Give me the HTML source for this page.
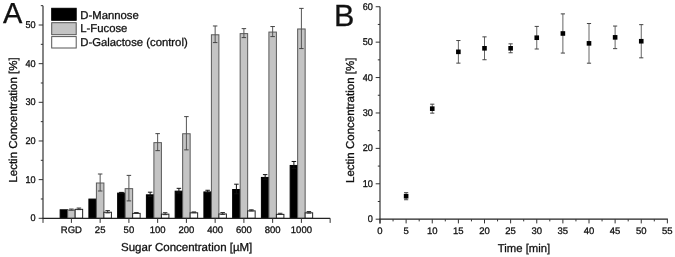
<!DOCTYPE html>
<html><head><meta charset="utf-8"><style>
html,body{margin:0;padding:0;background:#fff;width:675px;height:257px;overflow:hidden}
svg{display:block;filter:blur(0.5px)}
text{font-family:"Liberation Sans", sans-serif;fill:#111;stroke:#111;stroke-width:0.3px;text-rendering:geometricPrecision}
</style></head><body>
<svg width="675" height="257" viewBox="0 0 675 257">
<rect x="60.15" y="209.79" width="7.50" height="8.51" fill="#000" stroke="#000" stroke-width="1"/>
<rect x="67.65" y="210.10" width="7.50" height="8.20" fill="#c4c4c4" stroke="#5a5a5a" stroke-width="1"/>
<rect x="75.15" y="209.33" width="7.50" height="8.97" fill="#fff" stroke="#222" stroke-width="1"/>
<line x1="71.40" y1="209.02" x2="71.40" y2="210.18" stroke="#555" stroke-width="1"/>
<line x1="69.15" y1="209.02" x2="73.65" y2="209.02" stroke="#444" stroke-width="1"/>
<line x1="69.15" y1="210.18" x2="73.65" y2="210.18" stroke="#444" stroke-width="1"/>
<line x1="78.90" y1="208.06" x2="78.90" y2="209.60" stroke="#333" stroke-width="1"/>
<line x1="76.65" y1="208.06" x2="81.15" y2="208.06" stroke="#333" stroke-width="1"/>
<line x1="76.65" y1="209.60" x2="81.15" y2="209.60" stroke="#333" stroke-width="1"/>
<rect x="88.90" y="199.08" width="7.50" height="19.22" fill="#000" stroke="#000" stroke-width="1"/>
<rect x="96.40" y="183.00" width="7.50" height="35.30" fill="#c4c4c4" stroke="#5a5a5a" stroke-width="1"/>
<rect x="103.90" y="212.23" width="7.50" height="6.07" fill="#fff" stroke="#222" stroke-width="1"/>
<line x1="100.15" y1="174.00" x2="100.15" y2="191.01" stroke="#555" stroke-width="1"/>
<line x1="97.90" y1="174.00" x2="102.40" y2="174.00" stroke="#444" stroke-width="1"/>
<line x1="97.90" y1="191.01" x2="102.40" y2="191.01" stroke="#444" stroke-width="1"/>
<line x1="107.65" y1="210.57" x2="107.65" y2="212.89" stroke="#333" stroke-width="1"/>
<line x1="105.40" y1="210.57" x2="109.90" y2="210.57" stroke="#333" stroke-width="1"/>
<line x1="105.40" y1="212.89" x2="109.90" y2="212.89" stroke="#333" stroke-width="1"/>
<rect x="117.65" y="193.09" width="7.50" height="25.21" fill="#000" stroke="#000" stroke-width="1"/>
<rect x="125.15" y="188.65" width="7.50" height="29.65" fill="#c4c4c4" stroke="#5a5a5a" stroke-width="1"/>
<rect x="132.65" y="213.39" width="7.50" height="4.91" fill="#fff" stroke="#222" stroke-width="1"/>
<line x1="121.40" y1="192.40" x2="121.40" y2="192.78" stroke="#111" stroke-width="1"/>
<line x1="119.15" y1="192.40" x2="123.65" y2="192.40" stroke="#111" stroke-width="1"/>
<line x1="119.15" y1="192.78" x2="123.65" y2="192.78" stroke="#111" stroke-width="1"/>
<line x1="128.90" y1="175.39" x2="128.90" y2="200.90" stroke="#555" stroke-width="1"/>
<line x1="126.65" y1="175.39" x2="131.15" y2="175.39" stroke="#444" stroke-width="1"/>
<line x1="126.65" y1="200.90" x2="131.15" y2="200.90" stroke="#444" stroke-width="1"/>
<line x1="136.40" y1="212.50" x2="136.40" y2="213.27" stroke="#333" stroke-width="1"/>
<line x1="134.15" y1="212.50" x2="138.65" y2="212.50" stroke="#333" stroke-width="1"/>
<line x1="134.15" y1="213.27" x2="138.65" y2="213.27" stroke="#333" stroke-width="1"/>
<rect x="146.40" y="194.83" width="7.50" height="23.47" fill="#000" stroke="#000" stroke-width="1"/>
<rect x="153.90" y="142.64" width="7.50" height="75.66" fill="#c4c4c4" stroke="#5a5a5a" stroke-width="1"/>
<rect x="161.40" y="214.16" width="7.50" height="4.14" fill="#fff" stroke="#222" stroke-width="1"/>
<line x1="150.15" y1="192.20" x2="150.15" y2="196.46" stroke="#111" stroke-width="1"/>
<line x1="147.90" y1="192.20" x2="152.40" y2="192.20" stroke="#111" stroke-width="1"/>
<line x1="147.90" y1="196.46" x2="152.40" y2="196.46" stroke="#111" stroke-width="1"/>
<line x1="157.65" y1="133.63" x2="157.65" y2="150.65" stroke="#555" stroke-width="1"/>
<line x1="155.40" y1="133.63" x2="159.90" y2="133.63" stroke="#444" stroke-width="1"/>
<line x1="155.40" y1="150.65" x2="159.90" y2="150.65" stroke="#444" stroke-width="1"/>
<line x1="165.15" y1="212.69" x2="165.15" y2="214.63" stroke="#333" stroke-width="1"/>
<line x1="162.90" y1="212.69" x2="167.40" y2="212.69" stroke="#333" stroke-width="1"/>
<line x1="162.90" y1="214.63" x2="167.40" y2="214.63" stroke="#333" stroke-width="1"/>
<rect x="175.15" y="191.16" width="7.50" height="27.14" fill="#000" stroke="#000" stroke-width="1"/>
<rect x="182.65" y="133.75" width="7.50" height="84.55" fill="#c4c4c4" stroke="#5a5a5a" stroke-width="1"/>
<rect x="190.15" y="212.81" width="7.50" height="5.49" fill="#fff" stroke="#222" stroke-width="1"/>
<line x1="178.90" y1="188.34" x2="178.90" y2="192.98" stroke="#111" stroke-width="1"/>
<line x1="176.65" y1="188.34" x2="181.15" y2="188.34" stroke="#111" stroke-width="1"/>
<line x1="176.65" y1="192.98" x2="181.15" y2="192.98" stroke="#111" stroke-width="1"/>
<line x1="186.40" y1="116.62" x2="186.40" y2="149.87" stroke="#555" stroke-width="1"/>
<line x1="184.15" y1="116.62" x2="188.65" y2="116.62" stroke="#444" stroke-width="1"/>
<line x1="184.15" y1="149.87" x2="188.65" y2="149.87" stroke="#444" stroke-width="1"/>
<line x1="193.90" y1="211.92" x2="193.90" y2="212.69" stroke="#333" stroke-width="1"/>
<line x1="191.65" y1="211.92" x2="196.15" y2="211.92" stroke="#333" stroke-width="1"/>
<line x1="191.65" y1="212.69" x2="196.15" y2="212.69" stroke="#333" stroke-width="1"/>
<rect x="203.90" y="191.93" width="7.50" height="26.37" fill="#000" stroke="#000" stroke-width="1"/>
<rect x="211.40" y="34.78" width="7.50" height="183.52" fill="#c4c4c4" stroke="#5a5a5a" stroke-width="1"/>
<rect x="218.90" y="213.97" width="7.50" height="4.33" fill="#fff" stroke="#222" stroke-width="1"/>
<line x1="207.65" y1="190.27" x2="207.65" y2="192.59" stroke="#111" stroke-width="1"/>
<line x1="205.40" y1="190.27" x2="209.90" y2="190.27" stroke="#111" stroke-width="1"/>
<line x1="205.40" y1="192.59" x2="209.90" y2="192.59" stroke="#111" stroke-width="1"/>
<line x1="215.15" y1="25.97" x2="215.15" y2="42.59" stroke="#555" stroke-width="1"/>
<line x1="212.90" y1="25.97" x2="217.40" y2="25.97" stroke="#444" stroke-width="1"/>
<line x1="212.90" y1="42.59" x2="217.40" y2="42.59" stroke="#444" stroke-width="1"/>
<line x1="222.65" y1="212.50" x2="222.65" y2="214.43" stroke="#333" stroke-width="1"/>
<line x1="220.40" y1="212.50" x2="224.90" y2="212.50" stroke="#333" stroke-width="1"/>
<line x1="220.40" y1="214.43" x2="224.90" y2="214.43" stroke="#333" stroke-width="1"/>
<rect x="232.65" y="189.50" width="7.50" height="28.80" fill="#000" stroke="#000" stroke-width="1"/>
<rect x="240.15" y="33.62" width="7.50" height="184.68" fill="#c4c4c4" stroke="#5a5a5a" stroke-width="1"/>
<rect x="247.65" y="210.87" width="7.50" height="7.43" fill="#fff" stroke="#222" stroke-width="1"/>
<line x1="236.40" y1="184.20" x2="236.40" y2="193.79" stroke="#111" stroke-width="1"/>
<line x1="234.15" y1="184.20" x2="238.65" y2="184.20" stroke="#111" stroke-width="1"/>
<line x1="234.15" y1="193.79" x2="238.65" y2="193.79" stroke="#111" stroke-width="1"/>
<line x1="243.90" y1="28.63" x2="243.90" y2="37.60" stroke="#555" stroke-width="1"/>
<line x1="241.65" y1="28.63" x2="246.15" y2="28.63" stroke="#444" stroke-width="1"/>
<line x1="241.65" y1="37.60" x2="246.15" y2="37.60" stroke="#444" stroke-width="1"/>
<line x1="251.40" y1="209.79" x2="251.40" y2="210.95" stroke="#333" stroke-width="1"/>
<line x1="249.15" y1="209.79" x2="253.65" y2="209.79" stroke="#333" stroke-width="1"/>
<line x1="249.15" y1="210.95" x2="253.65" y2="210.95" stroke="#333" stroke-width="1"/>
<rect x="261.40" y="177.43" width="7.50" height="40.87" fill="#000" stroke="#000" stroke-width="1"/>
<rect x="268.90" y="32.07" width="7.50" height="186.23" fill="#c4c4c4" stroke="#5a5a5a" stroke-width="1"/>
<rect x="276.40" y="214.35" width="7.50" height="3.95" fill="#fff" stroke="#222" stroke-width="1"/>
<line x1="265.15" y1="174.61" x2="265.15" y2="179.25" stroke="#111" stroke-width="1"/>
<line x1="262.90" y1="174.61" x2="267.40" y2="174.61" stroke="#111" stroke-width="1"/>
<line x1="262.90" y1="179.25" x2="267.40" y2="179.25" stroke="#111" stroke-width="1"/>
<line x1="272.65" y1="26.55" x2="272.65" y2="36.60" stroke="#555" stroke-width="1"/>
<line x1="270.40" y1="26.55" x2="274.90" y2="26.55" stroke="#444" stroke-width="1"/>
<line x1="270.40" y1="36.60" x2="274.90" y2="36.60" stroke="#444" stroke-width="1"/>
<line x1="280.15" y1="213.27" x2="280.15" y2="214.43" stroke="#333" stroke-width="1"/>
<line x1="277.90" y1="213.27" x2="282.40" y2="213.27" stroke="#333" stroke-width="1"/>
<line x1="277.90" y1="214.43" x2="282.40" y2="214.43" stroke="#333" stroke-width="1"/>
<rect x="290.15" y="165.45" width="7.50" height="52.85" fill="#000" stroke="#000" stroke-width="1"/>
<rect x="297.65" y="28.98" width="7.50" height="189.32" fill="#c4c4c4" stroke="#5a5a5a" stroke-width="1"/>
<rect x="305.15" y="212.81" width="7.50" height="5.49" fill="#fff" stroke="#222" stroke-width="1"/>
<line x1="293.90" y1="161.47" x2="293.90" y2="168.43" stroke="#111" stroke-width="1"/>
<line x1="291.65" y1="161.47" x2="296.15" y2="161.47" stroke="#111" stroke-width="1"/>
<line x1="291.65" y1="168.43" x2="296.15" y2="168.43" stroke="#111" stroke-width="1"/>
<line x1="301.40" y1="8.38" x2="301.40" y2="48.58" stroke="#555" stroke-width="1"/>
<line x1="299.15" y1="8.38" x2="303.65" y2="8.38" stroke="#444" stroke-width="1"/>
<line x1="299.15" y1="48.58" x2="303.65" y2="48.58" stroke="#444" stroke-width="1"/>
<line x1="308.90" y1="211.53" x2="308.90" y2="213.08" stroke="#333" stroke-width="1"/>
<line x1="306.65" y1="211.53" x2="311.15" y2="211.53" stroke="#333" stroke-width="1"/>
<line x1="306.65" y1="213.08" x2="311.15" y2="213.08" stroke="#333" stroke-width="1"/>
<line x1="43.00" y1="5.67" x2="43.00" y2="218.80" stroke="#333" stroke-width="1.2"/>
<line x1="42.40" y1="218.30" x2="330.15" y2="218.30" stroke="#222" stroke-width="1.2"/>
<line x1="38.70" y1="218.30" x2="43.00" y2="218.30" stroke="#333" stroke-width="1"/>
<text transform="translate(35.60 221.30) scale(0.95 1.02)" font-size="9.6" text-anchor="end" >0</text>
<line x1="38.70" y1="179.64" x2="43.00" y2="179.64" stroke="#333" stroke-width="1"/>
<text transform="translate(35.60 182.64) scale(0.95 1.02)" font-size="9.6" text-anchor="end" >10</text>
<line x1="38.70" y1="140.98" x2="43.00" y2="140.98" stroke="#333" stroke-width="1"/>
<text transform="translate(35.60 143.98) scale(0.95 1.02)" font-size="9.6" text-anchor="end" >20</text>
<line x1="38.70" y1="102.32" x2="43.00" y2="102.32" stroke="#333" stroke-width="1"/>
<text transform="translate(35.60 105.32) scale(0.95 1.02)" font-size="9.6" text-anchor="end" >30</text>
<line x1="38.70" y1="63.66" x2="43.00" y2="63.66" stroke="#333" stroke-width="1"/>
<text transform="translate(35.60 66.66) scale(0.95 1.02)" font-size="9.6" text-anchor="end" >40</text>
<line x1="38.70" y1="25.00" x2="43.00" y2="25.00" stroke="#333" stroke-width="1"/>
<text transform="translate(35.60 28.00) scale(0.95 1.02)" font-size="9.6" text-anchor="end" >50</text>
<line x1="40.80" y1="198.97" x2="43.00" y2="198.97" stroke="#333" stroke-width="1"/>
<line x1="40.80" y1="160.31" x2="43.00" y2="160.31" stroke="#333" stroke-width="1"/>
<line x1="40.80" y1="121.65" x2="43.00" y2="121.65" stroke="#333" stroke-width="1"/>
<line x1="40.80" y1="82.99" x2="43.00" y2="82.99" stroke="#333" stroke-width="1"/>
<line x1="40.80" y1="44.33" x2="43.00" y2="44.33" stroke="#333" stroke-width="1"/>
<line x1="40.80" y1="5.67" x2="43.00" y2="5.67" stroke="#333" stroke-width="1"/>
<line x1="43.00" y1="218.30" x2="43.00" y2="222.90" stroke="#333" stroke-width="1"/>
<line x1="71.40" y1="218.30" x2="71.40" y2="222.90" stroke="#333" stroke-width="1"/>
<line x1="100.15" y1="218.30" x2="100.15" y2="222.90" stroke="#333" stroke-width="1"/>
<line x1="128.90" y1="218.30" x2="128.90" y2="222.90" stroke="#333" stroke-width="1"/>
<line x1="157.65" y1="218.30" x2="157.65" y2="222.90" stroke="#333" stroke-width="1"/>
<line x1="186.40" y1="218.30" x2="186.40" y2="222.90" stroke="#333" stroke-width="1"/>
<line x1="215.15" y1="218.30" x2="215.15" y2="222.90" stroke="#333" stroke-width="1"/>
<line x1="243.90" y1="218.30" x2="243.90" y2="222.90" stroke="#333" stroke-width="1"/>
<line x1="272.65" y1="218.30" x2="272.65" y2="222.90" stroke="#333" stroke-width="1"/>
<line x1="301.40" y1="218.30" x2="301.40" y2="222.90" stroke="#333" stroke-width="1"/>
<line x1="330.15" y1="218.30" x2="330.15" y2="222.90" stroke="#333" stroke-width="1"/>
<text x="71.40" y="232.80" font-size="9.5" text-anchor="middle" >RGD</text>
<text x="100.15" y="232.80" font-size="9.5" text-anchor="middle" >25</text>
<text x="128.90" y="232.80" font-size="9.5" text-anchor="middle" >50</text>
<text x="157.65" y="232.80" font-size="9.5" text-anchor="middle" >100</text>
<text x="186.40" y="232.80" font-size="9.5" text-anchor="middle" >200</text>
<text x="215.15" y="232.80" font-size="9.5" text-anchor="middle" >400</text>
<text x="243.90" y="232.80" font-size="9.5" text-anchor="middle" >600</text>
<text x="272.65" y="232.80" font-size="9.5" text-anchor="middle" >800</text>
<text x="301.40" y="232.80" font-size="9.5" text-anchor="middle" >1000</text>
<text x="186.70" y="251.00" font-size="11.5" text-anchor="middle" >Sugar Concentration [µM]</text>
<text x="17.40" y="120.00" font-size="11.5" text-anchor="middle" transform="rotate(-90 17.4 120.0)">Lectin Concentration [%]</text>
<text x="3.00" y="23.10" font-size="29" text-anchor="start" >A</text>
<rect x="51.70" y="8.30" width="24.50" height="12.00" fill="#000" stroke="#000" stroke-width="1"/>
<rect x="51.70" y="22.70" width="24.50" height="12.00" fill="#c4c4c4" stroke="#555" stroke-width="1"/>
<rect x="51.70" y="36.60" width="24.50" height="11.40" fill="#fff" stroke="#555" stroke-width="1"/>
<text x="80.30" y="18.70" font-size="11.3" text-anchor="start" >D-Mannose</text>
<text x="80.30" y="32.10" font-size="11.3" text-anchor="start" >L-Fucose</text>
<text x="80.30" y="45.60" font-size="11.3" text-anchor="start" >D-Galactose (control)</text>
<line x1="406.12" y1="192.68" x2="406.12" y2="199.74" stroke="#666" stroke-width="1"/>
<line x1="404.02" y1="192.68" x2="408.23" y2="192.68" stroke="#444" stroke-width="1"/>
<line x1="404.02" y1="199.74" x2="408.23" y2="199.74" stroke="#444" stroke-width="1"/>
<line x1="432.25" y1="104.18" x2="432.25" y2="113.15" stroke="#666" stroke-width="1"/>
<line x1="430.15" y1="104.18" x2="434.35" y2="104.18" stroke="#444" stroke-width="1"/>
<line x1="430.15" y1="113.15" x2="434.35" y2="113.15" stroke="#444" stroke-width="1"/>
<line x1="458.38" y1="40.54" x2="458.38" y2="63.13" stroke="#666" stroke-width="1"/>
<line x1="456.27" y1="40.54" x2="460.48" y2="40.54" stroke="#444" stroke-width="1"/>
<line x1="456.27" y1="63.13" x2="460.48" y2="63.13" stroke="#444" stroke-width="1"/>
<line x1="484.50" y1="36.86" x2="484.50" y2="59.74" stroke="#666" stroke-width="1"/>
<line x1="482.40" y1="36.86" x2="486.60" y2="36.86" stroke="#444" stroke-width="1"/>
<line x1="482.40" y1="59.74" x2="486.60" y2="59.74" stroke="#444" stroke-width="1"/>
<line x1="510.62" y1="43.85" x2="510.62" y2="52.75" stroke="#666" stroke-width="1"/>
<line x1="508.52" y1="43.85" x2="512.73" y2="43.85" stroke="#444" stroke-width="1"/>
<line x1="508.52" y1="52.75" x2="512.73" y2="52.75" stroke="#444" stroke-width="1"/>
<line x1="536.75" y1="26.42" x2="536.75" y2="49.01" stroke="#666" stroke-width="1"/>
<line x1="534.65" y1="26.42" x2="538.85" y2="26.42" stroke="#444" stroke-width="1"/>
<line x1="534.65" y1="49.01" x2="538.85" y2="49.01" stroke="#444" stroke-width="1"/>
<line x1="562.88" y1="13.88" x2="562.88" y2="53.07" stroke="#666" stroke-width="1"/>
<line x1="560.77" y1="13.88" x2="564.98" y2="13.88" stroke="#444" stroke-width="1"/>
<line x1="560.77" y1="53.07" x2="564.98" y2="53.07" stroke="#444" stroke-width="1"/>
<line x1="589.00" y1="23.52" x2="589.00" y2="63.20" stroke="#666" stroke-width="1"/>
<line x1="586.90" y1="23.52" x2="591.10" y2="23.52" stroke="#444" stroke-width="1"/>
<line x1="586.90" y1="63.20" x2="591.10" y2="63.20" stroke="#444" stroke-width="1"/>
<line x1="615.12" y1="26.06" x2="615.12" y2="48.65" stroke="#666" stroke-width="1"/>
<line x1="613.02" y1="26.06" x2="617.23" y2="26.06" stroke="#444" stroke-width="1"/>
<line x1="613.02" y1="48.65" x2="617.23" y2="48.65" stroke="#444" stroke-width="1"/>
<line x1="641.25" y1="24.65" x2="641.25" y2="57.83" stroke="#666" stroke-width="1"/>
<line x1="639.15" y1="24.65" x2="643.35" y2="24.65" stroke="#444" stroke-width="1"/>
<line x1="639.15" y1="57.83" x2="643.35" y2="57.83" stroke="#444" stroke-width="1"/>
<rect x="403.82" y="193.91" width="4.60" height="4.60" fill="#000" stroke="none" stroke-width="1"/>
<rect x="429.95" y="106.36" width="4.60" height="4.60" fill="#000" stroke="none" stroke-width="1"/>
<rect x="456.07" y="49.53" width="4.60" height="4.60" fill="#000" stroke="none" stroke-width="1"/>
<rect x="482.20" y="46.00" width="4.60" height="4.60" fill="#000" stroke="none" stroke-width="1"/>
<rect x="508.32" y="46.00" width="4.60" height="4.60" fill="#000" stroke="none" stroke-width="1"/>
<rect x="534.45" y="35.41" width="4.60" height="4.60" fill="#000" stroke="none" stroke-width="1"/>
<rect x="560.58" y="31.18" width="4.60" height="4.60" fill="#000" stroke="none" stroke-width="1"/>
<rect x="586.70" y="41.06" width="4.60" height="4.60" fill="#000" stroke="none" stroke-width="1"/>
<rect x="612.83" y="35.06" width="4.60" height="4.60" fill="#000" stroke="none" stroke-width="1"/>
<rect x="638.95" y="38.94" width="4.60" height="4.60" fill="#000" stroke="none" stroke-width="1"/>
<line x1="380.00" y1="6.74" x2="380.00" y2="223.50" stroke="#333" stroke-width="1.2"/>
<line x1="379.40" y1="219.20" x2="667.88" y2="219.20" stroke="#222" stroke-width="1.2"/>
<line x1="375.70" y1="219.20" x2="380.00" y2="219.20" stroke="#333" stroke-width="1"/>
<text transform="translate(372.90 222.20) scale(0.95 1.02)" font-size="9.6" text-anchor="end" >0</text>
<line x1="375.70" y1="183.79" x2="380.00" y2="183.79" stroke="#333" stroke-width="1"/>
<text transform="translate(372.90 186.79) scale(0.95 1.02)" font-size="9.6" text-anchor="end" >10</text>
<line x1="375.70" y1="148.38" x2="380.00" y2="148.38" stroke="#333" stroke-width="1"/>
<text transform="translate(372.90 151.38) scale(0.95 1.02)" font-size="9.6" text-anchor="end" >20</text>
<line x1="375.70" y1="112.97" x2="380.00" y2="112.97" stroke="#333" stroke-width="1"/>
<text transform="translate(372.90 115.97) scale(0.95 1.02)" font-size="9.6" text-anchor="end" >30</text>
<line x1="375.70" y1="77.56" x2="380.00" y2="77.56" stroke="#333" stroke-width="1"/>
<text transform="translate(372.90 80.56) scale(0.95 1.02)" font-size="9.6" text-anchor="end" >40</text>
<line x1="375.70" y1="42.15" x2="380.00" y2="42.15" stroke="#333" stroke-width="1"/>
<text transform="translate(372.90 45.15) scale(0.95 1.02)" font-size="9.6" text-anchor="end" >50</text>
<line x1="375.70" y1="6.74" x2="380.00" y2="6.74" stroke="#333" stroke-width="1"/>
<text transform="translate(372.90 9.74) scale(0.95 1.02)" font-size="9.6" text-anchor="end" >60</text>
<line x1="377.80" y1="201.50" x2="380.00" y2="201.50" stroke="#333" stroke-width="1"/>
<line x1="377.80" y1="166.08" x2="380.00" y2="166.08" stroke="#333" stroke-width="1"/>
<line x1="377.80" y1="130.68" x2="380.00" y2="130.68" stroke="#333" stroke-width="1"/>
<line x1="377.80" y1="95.26" x2="380.00" y2="95.26" stroke="#333" stroke-width="1"/>
<line x1="377.80" y1="59.85" x2="380.00" y2="59.85" stroke="#333" stroke-width="1"/>
<line x1="377.80" y1="24.44" x2="380.00" y2="24.44" stroke="#333" stroke-width="1"/>
<line x1="380.00" y1="219.20" x2="380.00" y2="223.40" stroke="#333" stroke-width="1"/>
<text x="380.00" y="233.60" font-size="9.5" text-anchor="middle" >0</text>
<line x1="406.12" y1="219.20" x2="406.12" y2="223.40" stroke="#333" stroke-width="1"/>
<text x="406.12" y="233.60" font-size="9.5" text-anchor="middle" >5</text>
<line x1="432.25" y1="219.20" x2="432.25" y2="223.40" stroke="#333" stroke-width="1"/>
<text x="432.25" y="233.60" font-size="9.5" text-anchor="middle" >10</text>
<line x1="458.38" y1="219.20" x2="458.38" y2="223.40" stroke="#333" stroke-width="1"/>
<text x="458.38" y="233.60" font-size="9.5" text-anchor="middle" >15</text>
<line x1="484.50" y1="219.20" x2="484.50" y2="223.40" stroke="#333" stroke-width="1"/>
<text x="484.50" y="233.60" font-size="9.5" text-anchor="middle" >20</text>
<line x1="510.62" y1="219.20" x2="510.62" y2="223.40" stroke="#333" stroke-width="1"/>
<text x="510.62" y="233.60" font-size="9.5" text-anchor="middle" >25</text>
<line x1="536.75" y1="219.20" x2="536.75" y2="223.40" stroke="#333" stroke-width="1"/>
<text x="536.75" y="233.60" font-size="9.5" text-anchor="middle" >30</text>
<line x1="562.88" y1="219.20" x2="562.88" y2="223.40" stroke="#333" stroke-width="1"/>
<text x="562.88" y="233.60" font-size="9.5" text-anchor="middle" >35</text>
<line x1="589.00" y1="219.20" x2="589.00" y2="223.40" stroke="#333" stroke-width="1"/>
<text x="589.00" y="233.60" font-size="9.5" text-anchor="middle" >40</text>
<line x1="615.12" y1="219.20" x2="615.12" y2="223.40" stroke="#333" stroke-width="1"/>
<text x="615.12" y="233.60" font-size="9.5" text-anchor="middle" >45</text>
<line x1="641.25" y1="219.20" x2="641.25" y2="223.40" stroke="#333" stroke-width="1"/>
<text x="641.25" y="233.60" font-size="9.5" text-anchor="middle" >50</text>
<line x1="667.38" y1="219.20" x2="667.38" y2="223.40" stroke="#333" stroke-width="1"/>
<text x="667.38" y="233.60" font-size="9.5" text-anchor="middle" >55</text>
<line x1="393.06" y1="219.20" x2="393.06" y2="221.40" stroke="#333" stroke-width="1"/>
<line x1="419.19" y1="219.20" x2="419.19" y2="221.40" stroke="#333" stroke-width="1"/>
<line x1="445.31" y1="219.20" x2="445.31" y2="221.40" stroke="#333" stroke-width="1"/>
<line x1="471.44" y1="219.20" x2="471.44" y2="221.40" stroke="#333" stroke-width="1"/>
<line x1="497.56" y1="219.20" x2="497.56" y2="221.40" stroke="#333" stroke-width="1"/>
<line x1="523.69" y1="219.20" x2="523.69" y2="221.40" stroke="#333" stroke-width="1"/>
<line x1="549.81" y1="219.20" x2="549.81" y2="221.40" stroke="#333" stroke-width="1"/>
<line x1="575.94" y1="219.20" x2="575.94" y2="221.40" stroke="#333" stroke-width="1"/>
<line x1="602.06" y1="219.20" x2="602.06" y2="221.40" stroke="#333" stroke-width="1"/>
<line x1="628.19" y1="219.20" x2="628.19" y2="221.40" stroke="#333" stroke-width="1"/>
<line x1="654.31" y1="219.20" x2="654.31" y2="221.40" stroke="#333" stroke-width="1"/>
<text x="524.00" y="251.70" font-size="11.3" text-anchor="middle" >Time [min]</text>
<text x="354.40" y="120.30" font-size="11.5" text-anchor="middle" transform="rotate(-90 354.4 120.3)">Lectin Concentration [%]</text>
<text x="334.00" y="25.70" font-size="30.5" text-anchor="start" >B</text>
</svg>
</body></html>
